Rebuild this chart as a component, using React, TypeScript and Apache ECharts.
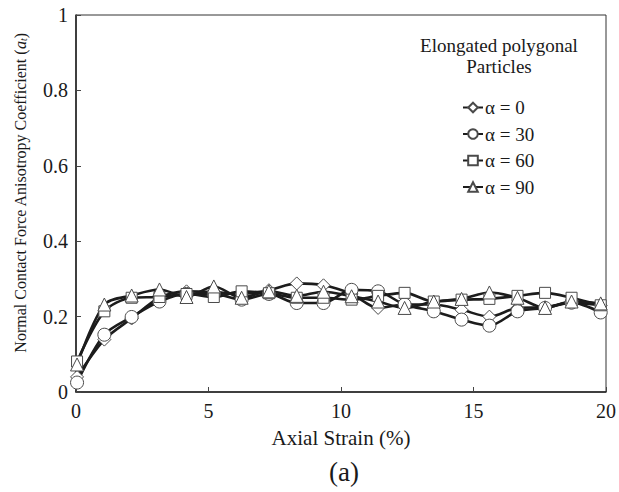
import React, { useEffect, useRef } from "react";
import * as echarts from "echarts";

const strain = [0.04, 1.07, 2.1, 3.15, 4.17, 5.2, 6.25, 7.28, 8.33, 9.34, 10.4, 11.4, 12.4, 13.5, 14.55, 15.6, 16.66, 17.7, 18.7, 19.8];
const alpha0 = [0.04, 0.139, 0.195, 0.25, 0.267, 0.265, 0.26, 0.27, 0.288, 0.283, 0.26, 0.223, 0.232, 0.232, 0.218, 0.2, 0.223, 0.225, 0.237, 0.23];
const alpha30 = [0.025, 0.152, 0.199, 0.24, 0.26, 0.26, 0.245, 0.26, 0.236, 0.236, 0.271, 0.267, 0.232, 0.214, 0.192, 0.176, 0.214, 0.223, 0.237, 0.211];
const alpha60 = [0.081, 0.214, 0.25, 0.252, 0.26, 0.252, 0.267, 0.262, 0.25, 0.25, 0.245, 0.255, 0.263, 0.24, 0.245, 0.247, 0.255, 0.263, 0.25, 0.23];
const alpha90 = [0.073, 0.232, 0.256, 0.272, 0.252, 0.28, 0.25, 0.267, 0.255, 0.266, 0.254, 0.24, 0.223, 0.24, 0.247, 0.264, 0.25, 0.223, 0.24, 0.235];
const seriesNames = ["α = 0", "α = 30", "α = 60", "α = 90"];
const xTicks = [0, 5, 10, 15, 20];
const yTicks = [0, 0.2, 0.4, 0.6, 0.8, 1];

const FONT = "Liberation Serif";
const INK = "#1a1a1a";

export default function App() {
  const ref = useRef<HTMLDivElement>(null);
  useEffect(() => {
    if (!ref.current) return;
    const chart = echarts.init(ref.current, undefined, { renderer: "svg" });
    const datasets = [alpha0, alpha30, alpha60, alpha90];
    const symbols = ["diamond", "circle", "rect", "triangle"];
    const sizes = [13, 13, 11, 13];
    const series = datasets.map((d, i) => ({
      name: seriesNames[i],
      type: "line",
      smooth: 0.3,
      data: d.map((v, j) => [strain[j], v]),
      symbol: symbols[i],
      symbolSize: sizes[i],
      showAllSymbol: true,
      lineStyle: { color: "#1c1c1c", width: 2.6 },
      itemStyle: { color: "#ffffff", borderColor: "#4a4a4a", borderWidth: 1 },
      z: 2,
    }));
    const rt = (size: number) => ({ fontFamily: FONT, fontSize: size, fill: INK, color: INK });
    chart.setOption({
      animation: false,
      backgroundColor: "#ffffff",
      textStyle: { fontFamily: FONT },
      grid: {
        left: 76,
        right: 10,
        top: 15,
        bottom: 100,
        show: true,
        borderColor: "#333",
        borderWidth: 1,
      },
      graphic: [
        {
          type: "text",
          x: 499,
          y: 35,
          style: {
            text: "Elongated polygonal\nParticles",
            align: "center",
            fontFamily: FONT,
            fontSize: 19,
            lineHeight: 21,
            fill: INK,
          },
        },
        {
          type: "text",
          x: 344,
          y: 458,
          style: { text: "(a)", align: "center", fontFamily: FONT, fontSize: 27, fill: INK },
        },
        {
          type: "text",
          x: 20,
          y: 193,
          rotation: Math.PI / 2,
          style: {
            text: "{n|Normal Contact Force Anisotropy Coefficient (}{i|a}{s|t}{n|)}",
            align: "center",
            verticalAlign: "middle",
            fill: INK,
            rich: {
              n: rt(16),
              i: { ...rt(16), fontStyle: "italic" },
              s: { ...rt(10), fontStyle: "italic", verticalAlign: "bottom", padding: [7, 0, 0, 0] },
            },
          },
        },
      ],
      legend: {
        orient: "vertical",
        left: 457,
        top: 93,
        itemGap: 7.5,
        itemWidth: 20,
        itemHeight: 12,
        textStyle: { fontFamily: FONT, fontSize: 19, color: INK, lineHeight: 18, padding: [0, 0, 0, -3] },
        data: seriesNames,
      },
      xAxis: {
        type: "value",
        min: 0,
        max: 20,
        interval: 5,
        name: "Axial Strain (%)",
        nameLocation: "middle",
        nameGap: 35,
        nameTextStyle: { fontFamily: FONT, fontSize: 21, color: INK },
        axisLine: { lineStyle: { color: "#222", width: 1.5 } },
        axisTick: { inside: true, length: 5, lineStyle: { color: "#444" } },
        axisLabel: {
          fontFamily: FONT,
          fontSize: 20,
          color: INK,
          margin: 9,
          customValues: xTicks,
        },
        splitLine: { show: false },
      },
      yAxis: {
        type: "value",
        min: 0,
        max: 1,
        interval: 0.2,
        axisLine: { show: true, lineStyle: { color: "#222", width: 1.5 } },
        axisTick: { show: true, inside: true, length: 5, lineStyle: { color: "#444" } },
        axisLabel: {
          fontFamily: FONT,
          fontSize: 20,
          color: INK,
          margin: 8,
          customValues: yTicks,
          formatter: (v: number) => String(Math.round(v * 10) / 10),
        },
        splitLine: { show: false },
      },
      series,
    });
    return () => chart.dispose();
  }, []);
  return <div ref={ref} style={{ position: "fixed", left: 0, top: 0, width: 619, height: 492 }} />;
}
